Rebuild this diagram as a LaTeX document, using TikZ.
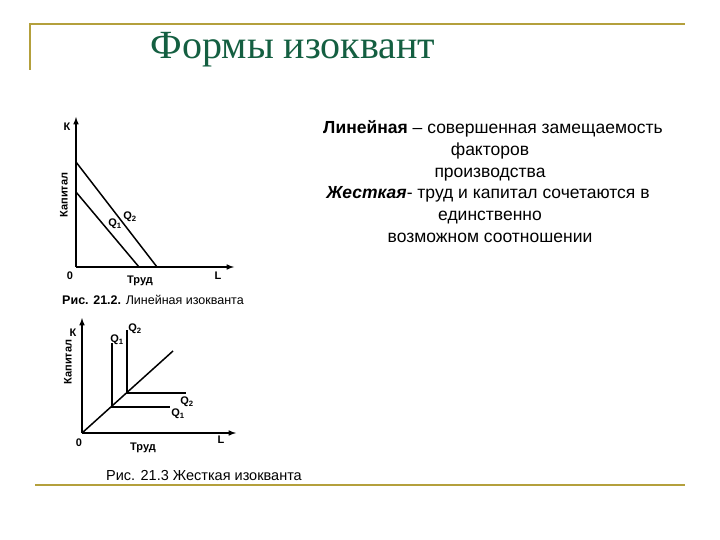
\documentclass[tikz,border=0pt]{standalone}
\usepackage{fontspec}
\setmainfont{Liberation Sans}
\newfontfamily\titlefont{Liberation Serif}
\definecolor{gold}{RGB}{180,160,60}
\definecolor{ttl}{RGB}{20,95,65}
\begin{document}
\begin{tikzpicture}[x=1pt,y=-1pt,
  ax/.style={line width=1.5pt,-latex},
  crv/.style={line width=1.5pt},
  lbl/.style={font=\fontsize{11}{12}\selectfont\bfseries,inner sep=0pt},
  rt/.style={font=\fontsize{17.5}{19}\selectfont,inner sep=0pt,anchor=base}]
\useasboundingbox (0,0) rectangle (720,540);
% frame
\draw[gold,line width=2pt] (30,70) -- (30,24) -- (685,24);
\draw[gold,line width=2pt] (35,485) -- (685,485);
\node[text=ttl,font=\titlefont\fontsize{40}{44}\selectfont] (title) at (293,50) {Формы изоквант};
% right text
\node[rt] (t1) at (493,134) {\textbf{Линейная} – совершенная замещаемость};
\node[rt] (t2) at (490,156) {факторов};
\node[rt] (t3) at (490,178) {производства};
\node[rt] (t4) at (488,199) {\textbf{\itshape Жесткая}- труд и капитал сочетаются в};
\node[rt] (t5) at (490,221) {единственно};
\node[rt] (t6) at (490,243) {возможном соотношении};
% chart 1
\coordinate (o1) at (76,267);
\coordinate (y1) at (76,117);
\coordinate (x1) at (234,267);
\draw[ax] (o1) -- (y1);
\draw[ax] (o1) -- (x1);
\coordinate (a2) at (76,162); \coordinate (b2) at (157,267);
\coordinate (a1) at (76,192); \coordinate (b1) at (139,267);
\draw[crv] (a2) -- (b2);
\draw[crv] (a1) -- (b1);
\node[lbl] (k1) at (67,127) {К};
\node[lbl] (l1) at (218,276) {L};
\node[lbl] (z1) at (70,276) {0};
\node[lbl] (tr1) at (140,281) {Труд};
\node[lbl,rotate=90] (kap1) at (64,195) {Капитал};
\node[lbl] (q21) at (130,217) {Q\textsubscript{2}};
\node[lbl] (q11) at (115,224) {Q\textsubscript{1}};
\node[font=\fontsize{12.5}{14}\selectfont,inner sep=0pt] (c1) at (153,300) {\textbf{Рис. 21.2.} Линейная изокванта};
% chart 2
\coordinate (o2) at (82,433);
\coordinate (y2) at (82,318);
\coordinate (x2) at (236,433);
\draw[ax] (o2) -- (y2);
\draw[ax] (o2) -- (x2);
\coordinate (d2) at (173,351);
\draw[crv] (o2) -- (d2);
\coordinate (p1) at (112,407); \coordinate (p1u) at (112,343); \coordinate (p1r) at (170,407);
\coordinate (p2) at (127,393); \coordinate (p2u) at (127,330); \coordinate (p2r) at (186,393);
\draw[crv] (p1u) -- (p1) -- (p1r);
\draw[crv] (p2u) -- (p2) -- (p2r);
\node[lbl] (k2) at (73,333) {К};
\node[lbl,rotate=90] (kap2) at (68,362) {Капитал};
\node[lbl] (z2) at (79,443) {0};
\node[lbl] (tr2) at (143,448) {Труд};
\node[lbl] (l2) at (221,440) {L};
\node[lbl] (q1t) at (117,340) {Q\textsubscript{1}};
\node[lbl] (q2t) at (135,329) {Q\textsubscript{2}};
\node[lbl] (q2r) at (187,402) {Q\textsubscript{2}};
\node[lbl] (q1r) at (178,414) {Q\textsubscript{1}};
\node[font=\fontsize{14.5}{16}\selectfont,inner sep=0pt] (c2) at (204,476) {Рис. 21.3 Жесткая изокванта};
\end{tikzpicture}
\end{document}
